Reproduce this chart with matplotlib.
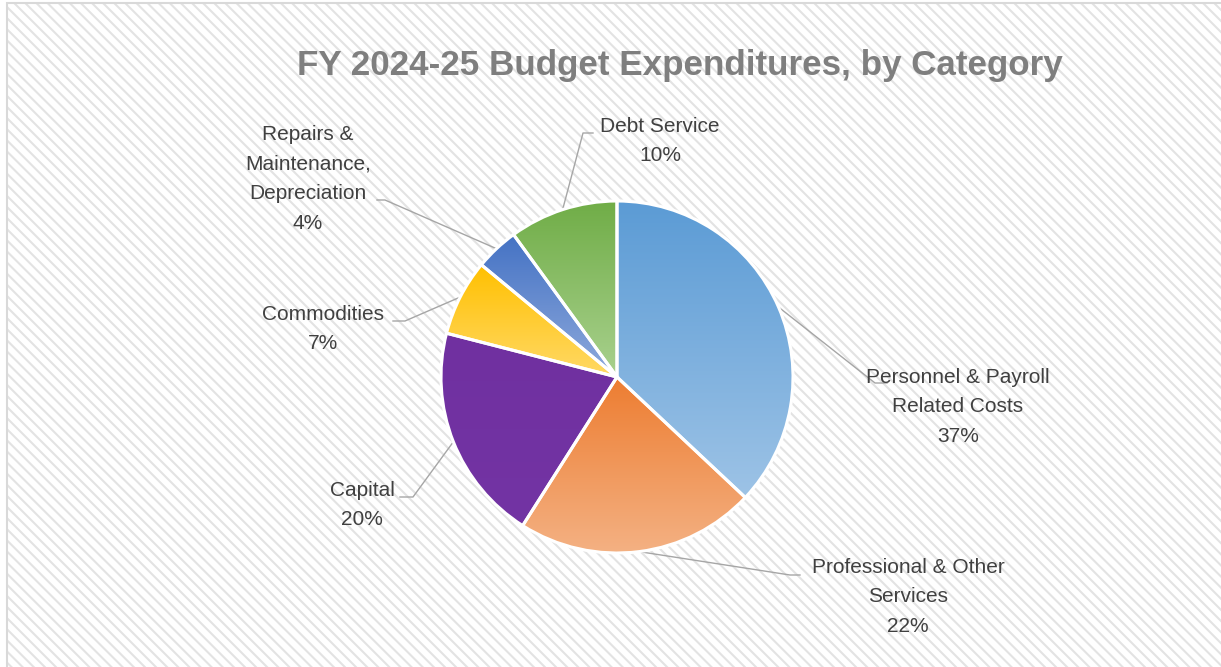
import matplotlib.pyplot as plt
import numpy as np
from matplotlib.colors import to_rgb
from matplotlib.patches import Rectangle

plt.rcParams['font.family'] = ['Liberation Sans', 'DejaVu Sans']
plt.rcParams['hatch.linewidth'] = 1.5

title = "FY 2024-25 Budget Expenditures, by Category"
categories = ["Personnel & Payroll\nRelated Costs", "Professional & Other\nServices",
              "Capital", "Commodities", "Repairs &\nMaintenance,\nDepreciation",
              "Debt Service"]
shares = [37, 22, 20, 7, 4, 10]
top_colors = ["#5B9BD5", "#ED7D31", "#7030A0", "#FFC000", "#4472C4", "#70AD47"]
bottom_colors = ["#9DC3E6", "#F4B183", "#7334A4", "#FFD966", "#8FAADC", "#A9D18E"]

W, H = 1221, 667
fig = plt.figure(figsize=(W / 100, H / 100), dpi=100)
fig.patch.set_facecolor('white')
ax = fig.add_axes([0, 0, 1, 1])

# striped chart area with light border
ax.add_patch(Rectangle((7, -10), 1300, H - 3 + 10, facecolor='white',
                       edgecolor='#E3E3E3', hatch='\\\\\\', linewidth=0, zorder=0))
ax.add_patch(Rectangle((7, -10), 1300, H - 3 + 10, fill=False,
                       edgecolor='#D9D9D9', linewidth=1.5, zorder=1))

cx, cy, r = 617, H - 377, 176
wedges, _ = ax.pie(shares, center=(cx, cy), radius=r, startangle=90, counterclock=False,
                   wedgeprops=dict(facecolor='none', edgecolor='white', linewidth=2.2, zorder=3))

for w, c0, c1 in zip(wedges, top_colors, bottom_colors):
    bb = w.get_path().get_extents()
    t = np.linspace(0, 1, 256)[:, None, None]
    grad = (1 - t) * np.array(to_rgb(c0)) + t * np.array(to_rgb(c1))
    im = ax.imshow(grad, extent=(bb.x0, bb.x1, bb.y0, bb.y1), origin='upper',
                   aspect='auto', zorder=2, interpolation='bilinear')
    im.set_clip_path(w)

# label positions (pixel coords) and leader-line elbows
label_xy = [(958, 407), (908, 597), (362, 505), (323, 329), (308, 179), (660, 141)]
elbows = [((875, 383), (887, 383)), ((790, 575), (800, 575)), ((413, 497), (400, 497)),
          ((405, 321), (393, 321)), ((385, 200), (377, 200)), ((583, 133), (593, 133))]

for w, name, s, (lx, ly), (e1, e2) in zip(wedges, categories, shares, label_xy, elbows):
    mid = np.deg2rad((w.theta1 + w.theta2) / 2)
    ax0, ay0 = cx + r * np.cos(mid), cy + r * np.sin(mid)
    ax.plot([ax0, e1[0], e2[0]], [ay0, H - e1[1], H - e2[1]], color='#A6A6A6',
            linewidth=1.0, zorder=2.5)
    ax.text(lx, H - ly, f"{name}\n{s}%", ha='center', va='center', fontsize=15,
            color='#404040', linespacing=1.7, zorder=4)

ax.text(680, H - 66, title, ha='center', va='center', fontsize=25.2, fontweight='bold',
        color='#7F7F7F', zorder=4)

ax.set_xlim(0, W)
ax.set_ylim(0, H)
ax.set_aspect('auto')
ax.axis('off')

fig.savefig('out.png', dpi=100, facecolor='white')
